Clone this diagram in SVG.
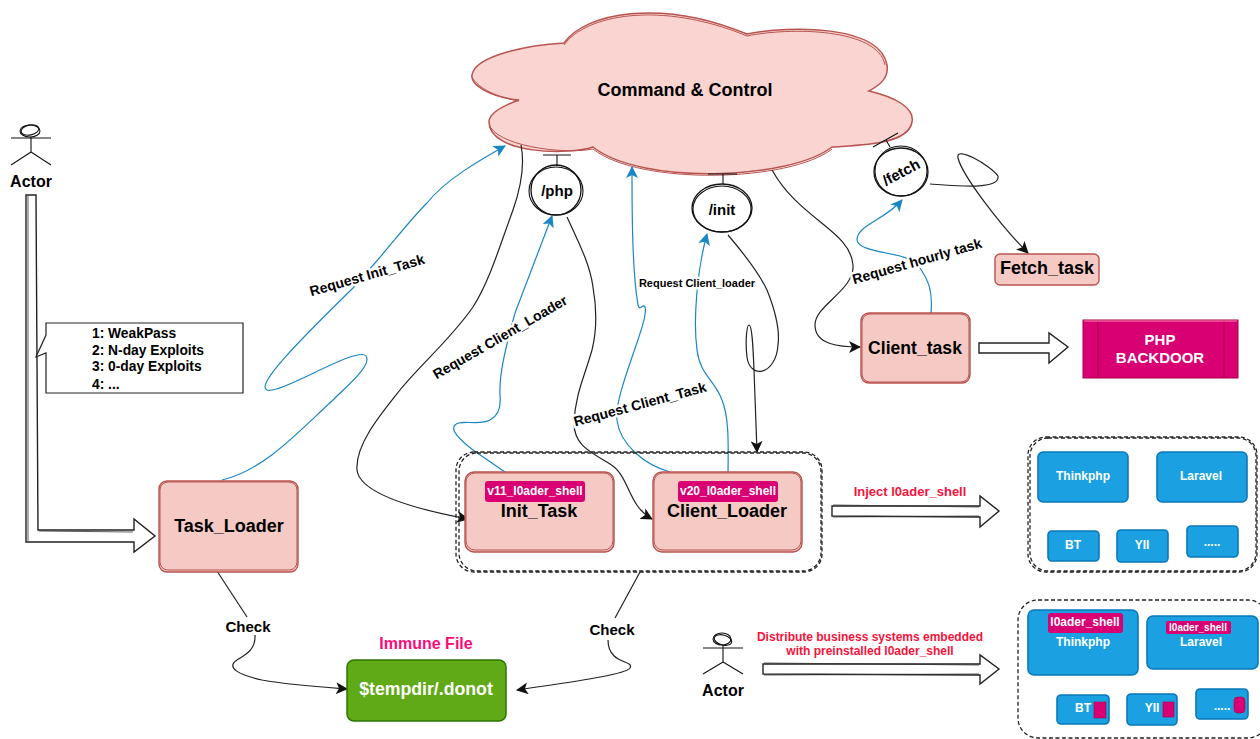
<svg xmlns="http://www.w3.org/2000/svg" width="1260" height="739" viewBox="0 0 1260 739">
<style>
text{font-family:"Liberation Sans",Arial,sans-serif;font-weight:bold;fill:#000;text-anchor:middle;dominant-baseline:central}
.wh{fill:#fff}.red{fill:#f5cac5;stroke:#b85450;stroke-width:1.4}.redo{fill:none;stroke:#b85450;stroke-width:1}
.blu{fill:#1ba1e2;stroke:#0a78b8;stroke-width:1.6}.bluo{fill:none;stroke:#0a78b8;stroke-width:1}
.pink{fill:#d80073;stroke:#a50040;stroke-width:.6}.tag{fill:#d80073}
.k{fill:none;stroke:#222;stroke-width:1.2}.b{fill:none;stroke:#1b86c4;stroke-width:1.2}
.ka{marker-end:url(#ak)}.ba{marker-end:url(#ab)}
.dash{fill:none;stroke:#222;stroke-width:1.3;stroke-dasharray:4 2.5}
.wide{fill:#fff;stroke:#222;stroke-width:1.4}.wide2{fill:none;stroke:#333;stroke-width:.8}.fig{fill:none;stroke:#111;stroke-width:1.1}
.lab{paint-order:stroke;stroke:#fff;stroke-width:5px;stroke-linejoin:round}
.note{fill:#f5143c}
</style>
<defs>
<marker id="ak" viewBox="0 0 12 12" refX="11" refY="6" markerWidth="12" markerHeight="12" markerUnits="userSpaceOnUse" orient="auto"><path d="M0 0L12 6L0 12L3 6Z" fill="#111"/></marker>
<marker id="ab" viewBox="0 0 12 12" refX="11" refY="6" markerWidth="12" markerHeight="12" markerUnits="userSpaceOnUse" orient="auto"><path d="M0 0L12 6L0 12L3 6Z" fill="#1b86c4"/></marker>
</defs>

<g id="cloud">
<path fill="#fad4d0" stroke="#b85450" stroke-width="1.5" d="M564 43C585 13 660 -2 747 34C790 25 880 25 887 65C889 78 880 85 869 91C895 97 915 108 912 122C908 145 860 145 832 147C790 180 640 185 593 147C570 155 490 155 489 122C489 112 505 105 519 100C490 97 470 85 472 75C475 55 530 45 564 43Z"/>
<path class="redo" d="M564 45C585 15 660 0 747 36C790 27 878 28 885 65M472 77C476 85 490 96 519 101M593 149C640 186 790 182 832 149M489 124C495 145 560 155 593 149"/>
<text x="685" y="90" font-size="18">Command &amp; Control</text>
</g>

<g id="connectors">
<path class="b ba" d="M222 480C265 470 300 430 333 400C350 383 372 365 366 356C358 345 280 395 267 390C255 385 300 340 353 288L375 263C395 240 410 220 427 203C445 180 480 160 505 146"/>
<path class="k ka" d="M521 145C525 165 520 190 513 210C500 245 490 280 473 307C450 340 420 365 400 390C380 415 355 445 357 470C360 495 420 510 468 519"/>
<path class="k ka" d="M567 217C580 245 590 265 593 287C597 310 597 330 592 350C585 375 575 395 574 423C574 445 590 452 610 464C630 476 627 505 652 519"/>
<path class="b ba" d="M518 481L473 450C460 440 450 430 455 425C460 419 480 426 490 420C500 415 501 405 500 395C499 375 505 350 515 313L552 216"/>
<path class="b ba" d="M670 472C645 465 620 445 617 420C613 395 650 320 645 307C643 303 640 312 638 305C632 270 632 210 632 167"/>
<path class="b ba" d="M728 482C728 450 730 420 722 400C715 380 700 375 697 350C693 320 697 270 707 234"/>
<path class="k ka" d="M728 235C745 255 760 275 767 290C775 310 780 330 778 345C776 375 750 380 747 357C745 340 747 325 749 325C752 325 753 345 754 370L757 452"/>
<path class="k ka" d="M772 170C800 220 850 230 853 265C855 290 815 305 815 325C815 345 840 347 860 347"/>
<path class="b ba" d="M931 313C933 290 928 280 920 268C912 258 905 258 900 256C885 252 858 250 857 240C857 225 885 220 902 200"/>
<path class="k ka" d="M930 184C960 186 1000 190 998 176C990 165 955 145 958 158C962 175 1000 225 1028 253"/>
<path class="k" d="M215 568L247 617"/>
<path class="k ka" d="M255 635C256 650 245 655 237 660C225 668 240 675 262 680C290 685 320 687 347 689"/>
<path class="k" d="M640 572L615 618"/>
<path class="k ka" d="M608 640C608 665 635 660 630 668C625 675 570 682 517 690"/>
<text class="lab" x="367" y="275" font-size="14" transform="rotate(-16 367 275)">Request Init_Task</text>
<text class="lab" x="500" y="337" font-size="14" transform="rotate(-30 500 337)">Request Client_Loader</text>
<text class="lab" x="640" y="404" font-size="14" transform="rotate(-15 640 404)">Request Client_Task</text>
<text class="lab" x="697" y="283" font-size="11">Request Client_loader</text>
<text class="lab" x="917" y="261" font-size="14" transform="rotate(-16 917 261)">Request hourly task</text>
<text class="lab" x="248" y="626" font-size="15">Check</text>
<text class="lab" x="612" y="629" font-size="15">Check</text>
<path class="wide" d="M26 195L36 195L38 530L134 530L134 519L155 536L134 552L134 542L26 542Z"/>
<path class="wide2" d="M28 196L28 541M39 531L133 532"/>
<path class="wide" d="M979 343L1049 343L1049 333L1068 347L1049 363L1049 353L979 353Z"/>
<path class="wide" d="M832 506L980 506L980 496L999 511L980 527L980 517L832 516Z"/>
<path class="wide2" d="M833 505L979 507M833 517L979 516"/>
<path class="wide" d="M763 664L980 664L980 655L999 669L980 684L980 675L763 674Z"/>
<path class="wide2" d="M764 663L979 665M764 675L979 674"/>
</g>

<g id="actor1">
<ellipse class="fig" cx="30" cy="131" rx="10" ry="6"/><ellipse class="fig" cx="30" cy="130" rx="9" ry="5" transform="rotate(-12 30 130)"/><path class="fig" d="M11 138L51 138M31 137L31 152M31 152L11 165M31 152L51 165"/>
<text x="31" y="181" font-size="16">Actor</text>
</g>
<g id="callout">
<path fill="#fff" stroke="#222" stroke-width="1.2" d="M46 323L243 323L243 393L46 393L46 353L36 357L46 335Z"/>
<text x="92" y="333" font-size="13.8" style="text-anchor:start">1: WeakPass</text>
<text x="92" y="350" font-size="13.8" style="text-anchor:start">2: N-day Exploits</text>
<text x="92" y="366" font-size="13.8" style="text-anchor:start">3: 0-day Exploits</text>
<text x="92" y="384" font-size="13.8" style="text-anchor:start">4: ...</text>
</g>
<g id="task_loader">
<rect class="red" x="159" y="481" width="139" height="91" rx="8"/><rect class="redo" x="160" y="482" width="137" height="88" rx="8"/>
<text x="229" y="526" font-size="18">Task_Loader</text>
</g>
<g id="group_box"><rect class="dash" x="456" y="452" width="366" height="120" rx="18"/><rect class="dash" x="459" y="453" width="362" height="118" rx="18"/></g>
<g id="init_task">
<rect class="red" x="465" y="472" width="149" height="80" rx="9"/><rect class="redo" x="466" y="473" width="147" height="77" rx="9"/>
<text x="539" y="511" font-size="18">Init_Task</text>
<rect class="tag" x="485" y="481" width="100" height="21" rx="3"/><text class="wh" x="535" y="491" font-size="12">v11_l0ader_shell</text>
</g>
<g id="client_loader">
<rect class="red" x="653" y="472" width="149" height="80" rx="9"/><rect class="redo" x="654" y="473" width="147" height="77" rx="9"/>
<text x="727" y="511" font-size="18">Client_Loader</text>
<rect class="tag" x="678" y="481" width="100" height="21" rx="3"/><text class="wh" x="728" y="491" font-size="12">v20_l0ader_shell</text>
</g>
<g id="client_task">
<rect class="red" x="861" y="313" width="109" height="70" rx="8"/><rect class="redo" x="862" y="314" width="107" height="68" rx="8"/>
<text x="915" y="348" font-size="17.6">Client_task</text>
</g>
<g id="fetch_task">
<rect class="red" x="995" y="254" width="104" height="31" rx="5"/>
<text x="1047" y="268" font-size="18">Fetch_task</text>
</g>
<g id="php_backdoor">
<rect x="1083" y="320" width="155" height="58" fill="#d80073" stroke="#a50040"/>
<path d="M1098 320V378M1224 320V378" stroke="#a50040" fill="none"/><path d="M1084 321H1237" stroke="#f8b" fill="none"/>
<text class="wh" x="1160" y="339" font-size="15">PHP</text><text class="wh" x="1160" y="357" font-size="15">BACKDOOR</text>
</g>
<g id="php">
<circle cx="556" cy="190" r="25" fill="#fff" stroke="#111" stroke-width="1.3"/><ellipse class="fig" cx="556" cy="191" rx="27" ry="24"/>
<path class="fig" d="M543 155H571M557 155V166" stroke-width="1.5"/><text x="557" y="190" font-size="15">/php</text>
</g>
<g id="init">
<ellipse cx="722" cy="208" rx="30" ry="24" fill="#fff" stroke="#111" stroke-width="1.3"/><ellipse class="fig" cx="722" cy="209" rx="29" ry="23"/>
<path class="fig" d="M708 174H737M723 174V184"/><text x="722" y="209" font-size="15">/init</text>
</g>
<g id="fetch">
<ellipse cx="901" cy="172" rx="27" ry="24" fill="#fff" stroke="#111" stroke-width="1.3"/><ellipse class="fig" cx="901" cy="171" rx="26" ry="25"/>
<path class="fig" d="M873 147L898 133M886 140L890 147"/><text x="901" y="172" font-size="15" transform="rotate(-28 901 172)">/fetch</text>
</g>
<g id="immune_file">
<text x="426" y="643" font-size="16" style="fill:#ff0a78">Immune File</text>
<rect x="347" y="660" width="159" height="61" rx="7" fill="#60a917" stroke="#2d7600" stroke-width="1.5"/>
<text class="wh" x="426" y="689" font-size="17.7">$tempdir/.donot</text>
</g>
<g id="actor2">
<ellipse class="fig" cx="722" cy="639" rx="9" ry="6"/><ellipse class="fig" cx="723" cy="640" rx="9" ry="5" transform="rotate(15 723 640)"/><path class="fig" d="M703 648H743M723 645V662M723 662L703 674M723 662L743 674"/>
<text x="723" y="690" font-size="16">Actor</text>
</g>
<g id="notes">
<text class="note" x="910" y="491" font-size="13">Inject l0ader_shell</text>
<text class="note" x="870" y="637" font-size="12">Distribute business systems embedded</text>
<text class="note" x="870" y="651" font-size="12">with preinstalled l0ader_shell</text>
</g>
<g id="systems_plain">
<rect class="dash" x="1028" y="437" width="229" height="135" rx="18"/><rect class="dash" x="1030" y="438" width="226" height="133" rx="18"/>
<g id="thinkphp_a"><rect class="blu" x="1038" y="452" width="90" height="50" rx="5"/><text class="wh" x="1083" y="476" font-size="12">Thinkphp</text></g>
<g id="laravel_a"><rect class="blu" x="1157" y="452" width="90" height="50" rx="5"/><text class="wh" x="1201" y="476" font-size="12">Laravel</text></g>
<g id="bt_a"><rect class="blu" x="1048" y="531" width="51" height="30" rx="4"/><text class="wh" x="1073" y="545" font-size="12">BT</text></g>
<g id="yii_a"><rect class="blu" x="1117" y="530" width="51" height="32" rx="4"/><text class="wh" x="1142" y="545" font-size="12">YII</text></g>
<g id="etc_a"><rect class="blu" x="1187" y="526" width="51" height="31" rx="4"/><text class="wh" x="1212" y="542" font-size="12">.....</text></g>
</g>
<g id="systems_embedded">
<rect class="dash" x="1018" y="600" width="250" height="138" rx="20"/>
<g id="thinkphp_b"><rect class="blu" x="1028" y="610" width="110" height="65" rx="6"/><rect class="tag" x="1048" y="613" width="75" height="20" rx="3"/><text class="wh" x="1085" y="622" font-size="12">l0ader_shell</text><text class="wh" x="1083" y="642" font-size="12">Thinkphp</text></g>
<g id="laravel_b"><rect class="blu" x="1147" y="616" width="111" height="53" rx="6"/><rect class="tag" x="1166" y="621" width="65" height="13" rx="2"/><text class="wh" x="1198" y="627" font-size="10">l0ader_shell</text><text class="wh" x="1201" y="642" font-size="12">Laravel</text></g>
<g id="bt_b"><rect class="blu" x="1057" y="695" width="52" height="29" rx="4"/><text class="wh" x="1083" y="708" font-size="12">BT</text><rect class="pink" x="1094" y="702" width="12" height="16"/></g>
<g id="yii_b"><rect class="blu" x="1127" y="694" width="50" height="31" rx="4"/><text class="wh" x="1152" y="708" font-size="12">YII</text><rect class="pink" x="1163" y="702" width="11" height="15"/></g>
<g id="etc_b"><rect class="blu" x="1196" y="689" width="52" height="30" rx="4"/><text class="wh" x="1222" y="706" font-size="12">.....</text><rect class="pink" x="1234" y="697" width="11" height="16" rx="4"/></g>
</g>
</svg>
